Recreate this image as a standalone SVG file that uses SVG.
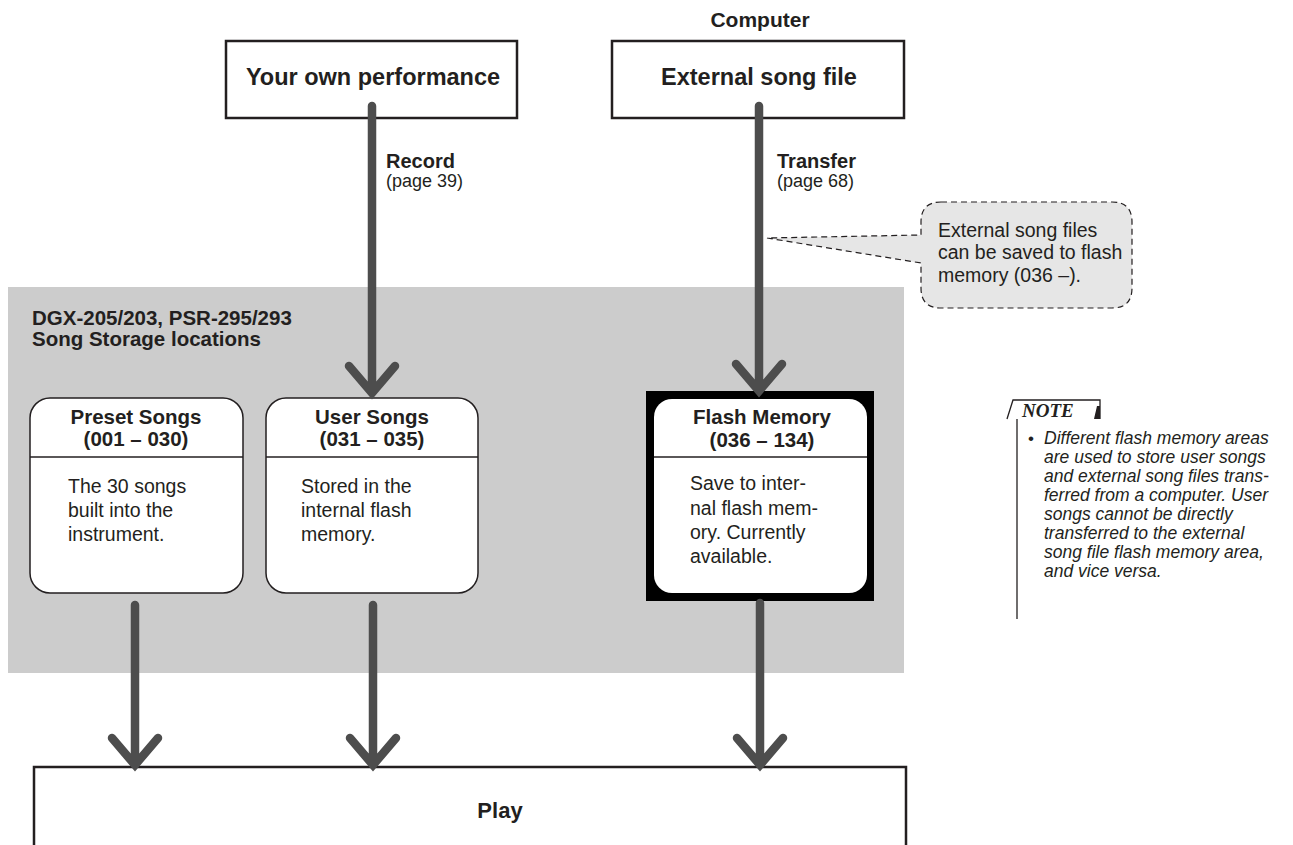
<svg xmlns="http://www.w3.org/2000/svg" width="1293" height="845" viewBox="0 0 1293 845">
<defs>
<style>
.t{font-family:"Liberation Sans",Arial,sans-serif;fill:#231f20}
.b{font-weight:bold}
.box{fill:#fff;stroke:#231f20;stroke-width:2.5}
.rbox{fill:#fff;stroke:#231f20;stroke-width:1.5}
.arr{fill:none;stroke:#4d4d4d;stroke-width:8.5;stroke-linecap:round;stroke-linejoin:miter}
.title{font-size:23.5px;text-anchor:middle}
.ht{font-size:20.5px;text-anchor:middle}
.body{font-size:19.5px}
.note{font-size:17.5px;font-style:italic}
</style>
</defs>
<rect width="1293" height="845" fill="#fff"/>
<rect id="storage-area" x="8" y="287" width="896" height="386" fill="#cccccc"/>
<text class="t b" x="32" y="325" font-size="20.5">DGX-205/203, PSR-295/293</text>
<text class="t b" x="32" y="346" font-size="20.5">Song Storage locations</text>

<g id="computer-label"><text class="t b" x="760" y="27" font-size="21" text-anchor="middle">Computer</text></g>

<g id="own-performance">
<rect class="box" x="226" y="41" width="291" height="77"/>
<text class="t b title" x="373" y="85">Your own performance</text>
</g>
<g id="external-song-file">
<rect class="box" x="612" y="41" width="292" height="77"/>
<text class="t b title" x="759" y="85">External song file</text>
</g>

<g id="preset-songs">
<rect class="rbox" x="30" y="398" width="213" height="195" rx="20"/>
<line x1="30" y1="457" x2="243" y2="457" stroke="#231f20" stroke-width="1.5"/>
<text class="t b ht" x="136" y="424">Preset Songs</text>
<text class="t b ht" x="136" y="446">(001 – 030)</text>
<text class="t body" x="68" y="493">The 30 songs</text>
<text class="t body" x="68" y="517">built into the</text>
<text class="t body" x="68" y="541">instrument.</text>
</g>
<g id="user-songs">
<rect class="rbox" x="266" y="398" width="212" height="195" rx="20"/>
<line x1="266" y1="457" x2="478" y2="457" stroke="#231f20" stroke-width="1.5"/>
<text class="t b ht" x="372" y="424">User Songs</text>
<text class="t b ht" x="372" y="446">(031 – 035)</text>
<text class="t body" x="301" y="493">Stored in the</text>
<text class="t body" x="301" y="517">internal flash</text>
<text class="t body" x="301" y="541">memory.</text>
</g>
<g id="flash-memory">
<rect x="646" y="391" width="228" height="210" fill="#000"/>
<rect x="654" y="399" width="213" height="194" rx="18" fill="#fff"/>
<line x1="654" y1="457" x2="867" y2="457" stroke="#231f20" stroke-width="1.5"/>
<text class="t b ht" x="762" y="424">Flash Memory</text>
<text class="t b ht" x="762" y="447">(036 – 134)</text>
<text class="t body" x="690" y="490">Save to inter-</text>
<text class="t body" x="690" y="515">nal flash mem-</text>
<text class="t body" x="690" y="539">ory. Currently</text>
<text class="t body" x="690" y="563">available.</text>
</g>

<g id="play">
<rect class="box" x="34" y="767" width="872" height="90" stroke-width="2.5"/>
<text class="t b" x="500" y="818" font-size="22" text-anchor="middle">Play</text>
</g>

<g id="connectors">
<path class="arr" d="M372 106V391M349 366L372 393L395 366"/>
<path class="arr" d="M759 106V389M736 364L759 391L782 364"/>
<path class="arr" d="M135 605V764M112 738L135 765L158 738"/>
<path class="arr" d="M373 605V764M350 738L373 765L396 738"/>
<path class="arr" d="M760 603V764M737 738L760 765L783 738"/>
<text class="t b" x="386" y="168" font-size="20">Record</text>
<text class="t" x="386" y="187" font-size="18">(page 39)</text>
<text class="t b" x="777" y="168" font-size="20">Transfer</text>
<text class="t" x="777" y="187" font-size="18">(page 68)</text>
</g>

<g id="callout">
<path d="M941 202H1112Q1132 202 1132 222V288Q1132 308 1112 308H941Q921 308 921 288V263L767 238L921 235V222Q921 202 941 202Z" fill="#e6e6e6" stroke="#231f20" stroke-width="1.2" stroke-dasharray="6,4"/>
<text class="t" x="938" y="237" font-size="19.5">External song files</text>
<text class="t" x="938" y="259" font-size="19.5">can be saved to flash</text>
<text class="t" x="938" y="282" font-size="19.5">memory (036 –).</text>
</g>

<g id="note">
<path d="M1007 419L1013 400H1100V419" fill="none" stroke="#231f20" stroke-width="1.3"/>
<path d="M1094 419L1097 406H1100V419Z" fill="#231f20"/>
<line x1="1017" y1="419" x2="1017" y2="619" stroke="#231f20" stroke-width="1.3"/>
<text x="1022" y="417" font-family="'Liberation Serif','Times New Roman',serif" font-weight="bold" font-style="italic" font-size="19" fill="#231f20">NOTE</text>
<text class="t" x="1028" y="444" font-size="17">•</text>
<text class="t note" x="1044" y="444">Different flash memory areas</text>
<text class="t note" x="1044" y="463">are used to store user songs</text>
<text class="t note" x="1044" y="482">and external song files trans-</text>
<text class="t note" x="1044" y="501">ferred from a computer. User</text>
<text class="t note" x="1044" y="520">songs cannot be directly</text>
<text class="t note" x="1044" y="539">transferred to the external</text>
<text class="t note" x="1044" y="558">song file flash memory area,</text>
<text class="t note" x="1044" y="577">and vice versa.</text>
</g>
</svg>
